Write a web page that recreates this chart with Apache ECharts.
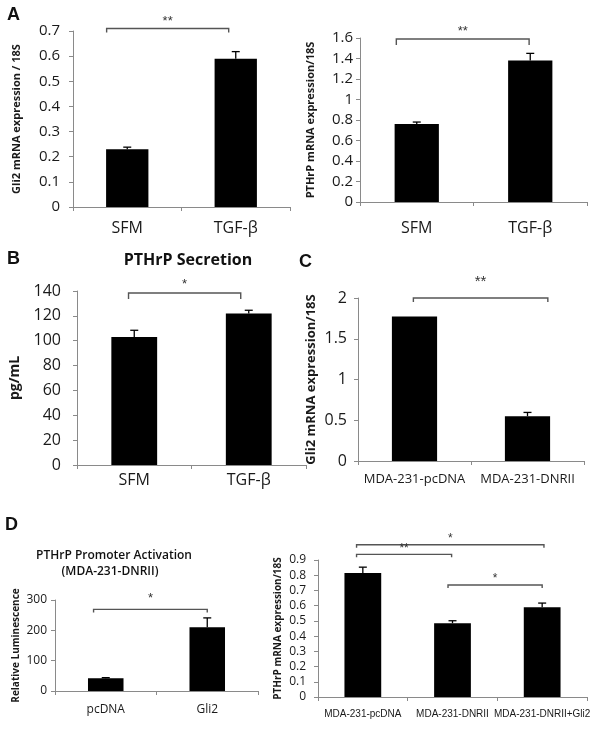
<!DOCTYPE html>
<html>
<head>
<meta charset="utf-8">
<script src="https://cdn.jsdelivr.net/npm/echarts@6/dist/echarts.min.js"></script>
<style>html,body{margin:0;padding:0;background:#fff}#c{width:602px;height:729px}</style>
</head>
<body>
<div id="c"></div>
<script>
// ---------- DATA ----------
const catsA = ['SFM', 'TGF-β'];
const gli2A = [0.23, 0.59];
const gli2AErr = [0.008, 0.028];
const pthrpA = [0.76, 1.38];
const pthrpAErr = [0.02, 0.07];
const catsB = ['SFM', 'TGF-β'];
const secretionB = [103, 121.8];
const secretionBErr = [5.4, 2.7];
const catsC = ['MDA-231-pcDNA', 'MDA-231-DNRII'];
const gli2C = [1.773, 0.55];
const gli2CErr = [0, 0.046];
const catsDL = ['pcDNA', 'Gli2'];
const lumD = [42, 210];
const lumDErr = [2, 31];
const catsDR = ['MDA-231-pcDNA', 'MDA-231-DNRII', 'MDA-231-DNRII+Gli2'];
const pthrpD = [0.815, 0.485, 0.589];
const pthrpDErr = [0.038, 0.016, 0.028];
// significance brackets: [fromCat, fromOffset, toCat, toOffset, level, label]
const sigA1 = [[0, -0.19, 1, -0.065, 0.71, '**']];
const sigA2 = [[0, -0.18, 1, -0.01, 1.59, '**']];
const sigB = [[0, -0.05, 1, -0.07, 138.4, '*']];
const sigC = [[0, -0.01, 1, 0.18, 2.0, '**']];
const sigDL = [[0, -0.12, 1, 0, 269, '*']];
const sigDR = [[0, -0.07, 2, 0.02, 1.0, '*'], [0, -0.07, 1, -0.01, 0.937, '**'], [1, -0.05, 2, 0, 0.736, '*']];

// ---------- BUILD ----------
const AX = '#8a8a8a';
const FONT = '"Open Sans", sans-serif';
const grids = [], xAxes = [], yAxes = [], series = [];

function errSeries(idx, vals, errs) {
  return {
    type: 'custom', xAxisIndex: idx, yAxisIndex: idx, z: 5,
    data: vals.map((v, i) => [i, v, errs[i]]).filter(d => d[2] > 0),
    renderItem: function (params, api) {
      const x = api.value(0), v = api.value(1), e = api.value(2);
      const p0 = api.coord([x, v]), p1 = api.coord([x, v + e]);
      const hw = 4;
      return { type: 'group', children: [
        { type: 'line', shape: { x1: p0[0], y1: p0[1], x2: p1[0], y2: p1[1] }, style: { stroke: '#000', lineWidth: 1.3 } },
        { type: 'line', shape: { x1: p1[0] - hw, y1: p1[1], x2: p1[0] + hw, y2: p1[1] }, style: { stroke: '#000', lineWidth: 1.3 } }
      ]};
    }
  };
}

function sigSeries(idx, sigs, tick, starSize, starGap) {
  return {
    type: 'custom', xAxisIndex: idx, yAxisIndex: idx, z: 6,
    encode: { x: 0, y: 4 },
    data: sigs.map(s => s.slice(0, 5)),
    renderItem: function (params, api) {
      const s = sigs[params.dataIndex];
      const band = api.size([1, 0])[0];
      const pA = api.coord([api.value(0), api.value(4)]);
      const pB = api.coord([api.value(2), api.value(4)]);
      const xa = pA[0] + api.value(1) * band, xb = pB[0] + api.value(3) * band, y = pA[1];
      return { type: 'group', children: [
        { type: 'polyline', shape: { points: [[xa, y + tick], [xa, y], [xb, y], [xb, y + tick]] }, style: { stroke: '#555', lineWidth: 1.4, fill: null } },
        { type: 'text', x: (xa + xb) / 2, y: y - starGap, style: { text: s[5], fill: '#333', font: starSize + 'px "Liberation Sans", sans-serif', align: 'center', verticalAlign: 'bottom' } }
      ]};
    }
  };
}

function panel(cfg) {
  const idx = grids.length;
  grids.push({ left: cfg.left, top: cfg.top, width: cfg.width, height: cfg.height, containLabel: false, outerBoundsMode: 'none' });
  xAxes.push({
    type: 'category', gridIndex: idx, data: cfg.cats,
    axisLine: { lineStyle: { color: AX, width: 1 } },
    axisTick: { show: true, length: 4, lineStyle: { color: AX } },
    axisLabel: { color: '#1a1a1a', fontSize: cfg.xFont, fontFamily: cfg.xFamily || FONT, margin: cfg.xMargin, interval: 0 }
  });
  yAxes.push({
    type: 'value', gridIndex: idx, min: 0, max: cfg.max, interval: cfg.interval,
    name: cfg.yName, nameLocation: 'middle', nameRotate: 90, nameGap: cfg.nameGap,
    nameTextStyle: { color: '#1a1a1a', fontSize: cfg.nameFont, fontWeight: 'bold', fontFamily: FONT },
    axisLine: { show: true, lineStyle: { color: AX, width: 1 } },
    axisTick: { show: true, length: 4, lineStyle: { color: AX } },
    splitLine: { show: false },
    axisLabel: { color: '#1a1a1a', fontSize: cfg.yFont, fontFamily: FONT, margin: cfg.yMargin }
  });
  series.push({
    type: 'bar', xAxisIndex: idx, yAxisIndex: idx, data: cfg.vals, barWidth: cfg.barWidth,
    itemStyle: { color: '#000' }, silent: true
  });
  series.push(errSeries(idx, cfg.vals, cfg.errs));
  series.push(sigSeries(idx, cfg.sigs, cfg.tick, cfg.starSize, cfg.starGap));
}

panel({ left: 73, top: 31, width: 217, height: 176, cats: catsA, vals: gli2A, errs: gli2AErr, sigs: sigA1,
  max: 0.7, interval: 0.1, yName: 'Gli2 mRNA expression / 18S', nameGap: 51, nameFont: 11,
  yFont: 15, yMargin: 13, xFont: 16, xMargin: 13, barWidth: '39%', tick: 4, starSize: 13, starGap: 1 });
panel({ left: 360, top: 38, width: 227, height: 164, cats: catsA, vals: pthrpA, errs: pthrpAErr, sigs: sigA2,
  max: 1.6, interval: 0.2, yName: 'PTHrP mRNA expression/18S', nameGap: 44, nameFont: 11,
  yFont: 15, yMargin: 7, xFont: 16, xMargin: 18, barWidth: '39%', tick: 6, starSize: 13, starGap: 1 });
panel({ left: 77, top: 291, width: 229, height: 174, cats: catsB, vals: secretionB, errs: secretionBErr, sigs: sigB,
  max: 140, interval: 20, yName: 'pg/mL', nameGap: 55, nameFont: 14,
  yFont: 16, yMargin: 16, xFont: 16, xMargin: 7, barWidth: '40%', tick: 6, starSize: 13, starGap: 2 });
panel({ left: 358, top: 298, width: 226, height: 163, cats: catsC, vals: gli2C, errs: gli2CErr, sigs: sigC,
  max: 2, interval: 0.5, yName: 'Gli2 mRNA expression/18S', nameGap: 40, nameFont: 13,
  yFont: 16, yMargin: 11, xFont: 13, xMargin: 12, barWidth: '40%', tick: 4, starSize: 15, starGap: 9 });
panel({ left: 55, top: 600, width: 203, height: 91, cats: catsDL, vals: lumD, errs: lumDErr, sigs: sigDL,
  max: 300, interval: 100, yName: 'Relative Luminescence', nameGap: 34, nameFont: 10,
  yFont: 12, yMargin: 8, xFont: 12, xMargin: 13, barWidth: '35%', tick: 3, starSize: 13, starGap: 4 });
panel({ left: 318, top: 560, width: 269, height: 137, cats: catsDR, vals: pthrpD, errs: pthrpDErr, sigs: sigDR,
  max: 0.9, interval: 0.1, yName: 'PTHrP mRNA expression/18S', nameGap: 35, nameFont: 10,
  yFont: 12, yMargin: 12, xFont: 10, xFamily: '"Liberation Sans", sans-serif', xMargin: 12, barWidth: '41%', tick: 3, starSize: 12, starGap: 0 });

const txt = (t, x, y, size) => ({ type: 'text', x: x, y: y,
  style: { text: t, fill: '#111', font: 'bold ' + size + 'px "Liberation Sans", sans-serif', align: 'left', verticalAlign: 'top' } });

const chart = echarts.init(document.getElementById('c'), null, { renderer: 'canvas' });
chart.setOption({
  backgroundColor: '#fff',
  animation: false,
  grid: grids, xAxis: xAxes, yAxis: yAxes, series: series,
  graphic: [
    txt('A', 7, 6, 18),
    txt('B', 7, 250, 18),
    txt('C', 299, 253, 18),
    txt('D', 5, 516, 18),
    { type: 'text', x: 188, y: 252, style: { text: 'PTHrP Secretion', fill: '#111', font: 'bold 16px "Open Sans", sans-serif', align: 'center', verticalAlign: 'top' } },
    { type: 'text', x: 114, y: 550, style: { text: 'PTHrP Promoter Activation', fill: '#111', font: '600 12px "Open Sans", sans-serif', align: 'center', verticalAlign: 'top' } },
    { type: 'text', x: 110, y: 566, style: { text: '(MDA-231-DNRII)', fill: '#111', font: '600 12px "Open Sans", sans-serif', align: 'center', verticalAlign: 'top' } }
  ]
});
</script>
</body>
</html>
